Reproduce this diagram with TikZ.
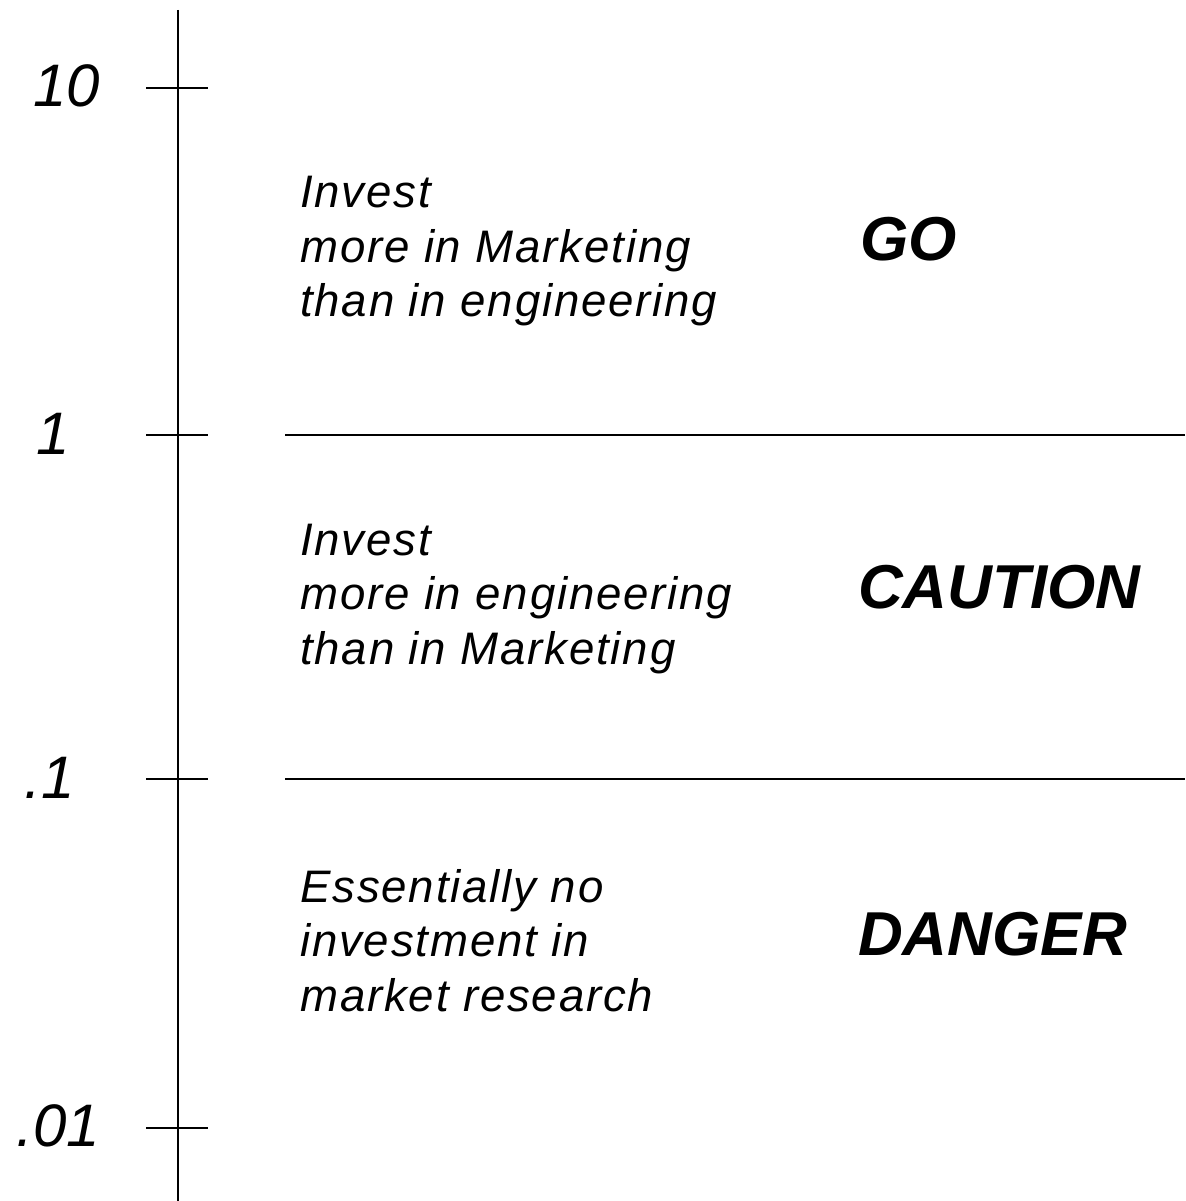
\documentclass[tikz,border=0pt]{standalone}
\usepackage{fontspec}
\setmainfont{Liberation Sans}
\newfontfamily\txtfont[LetterSpace=4]{Liberation Sans}
\begin{document}
\begin{tikzpicture}[x=1pt,y=-1pt,
  ax/.style={line width=2pt},
  numlbl/.style={anchor=base east,inner sep=0pt,font=\fontsize{60}{60}\selectfont\itshape},
  txt/.style={anchor=base west,inner sep=0pt,font=\txtfont\fontsize{45.6}{54}\selectfont\itshape},
  big/.style={anchor=base west,inner sep=0pt,font=\fontsize{62}{62}\selectfont\bfseries\itshape}]
\useasboundingbox (0,0) rectangle (1185,1201);
% axis
\coordinate (atop) at (178,10);
\coordinate (abot) at (178,1201);
\draw[ax] (atop) -- (abot);
\foreach \n/\y in {a/87.7,b/435,c/779,d/1127.7}{
  \coordinate (tl\n) at (146,\y);
  \coordinate (tr\n) at (208,\y);
  \draw[ax] (tl\n) -- (tr\n);
}
\coordinate (h1l) at (285,435); \coordinate (h1r) at (1185,435);
\coordinate (h2l) at (285,779); \coordinate (h2r) at (1185,779);
\draw[ax] (h1l) -- (h1r);
\draw[ax] (h2l) -- (h2r);
% numbers
\node[numlbl] (n10) at (100,106.7) {10};
\node[numlbl] (n1) at (70,454) {1};
\node[numlbl] (n01) at (75,798) {.1};
\node[numlbl] (n001) at (100,1146.7) {.01};
% block 1
\node[txt] (g1) at (300,207.7) {Invest};
\node[txt] (g2) at (300,262.5) {more in Marketing};
\node[txt] (g3) at (300,316.7) {than in engineering};
\node[big] (go) at (860,260) {GO};
% block 2
\node[txt] (c1) at (300,555) {Invest};
\node[txt] (c2) at (300,609.5) {more in engineering};
\node[txt] (c3) at (300,664) {than in Marketing};
\node[big] (caution) at (858,608) {CAUTION};
% block 3
\node[txt] (d1) at (300,902) {Essentially no};
\node[txt] (d2) at (300,956.5) {investment in};
\node[txt] (d3) at (300,1011) {market research};
\node[big] (danger) at (858,955) {DANGER};
\end{tikzpicture}
\end{document}
